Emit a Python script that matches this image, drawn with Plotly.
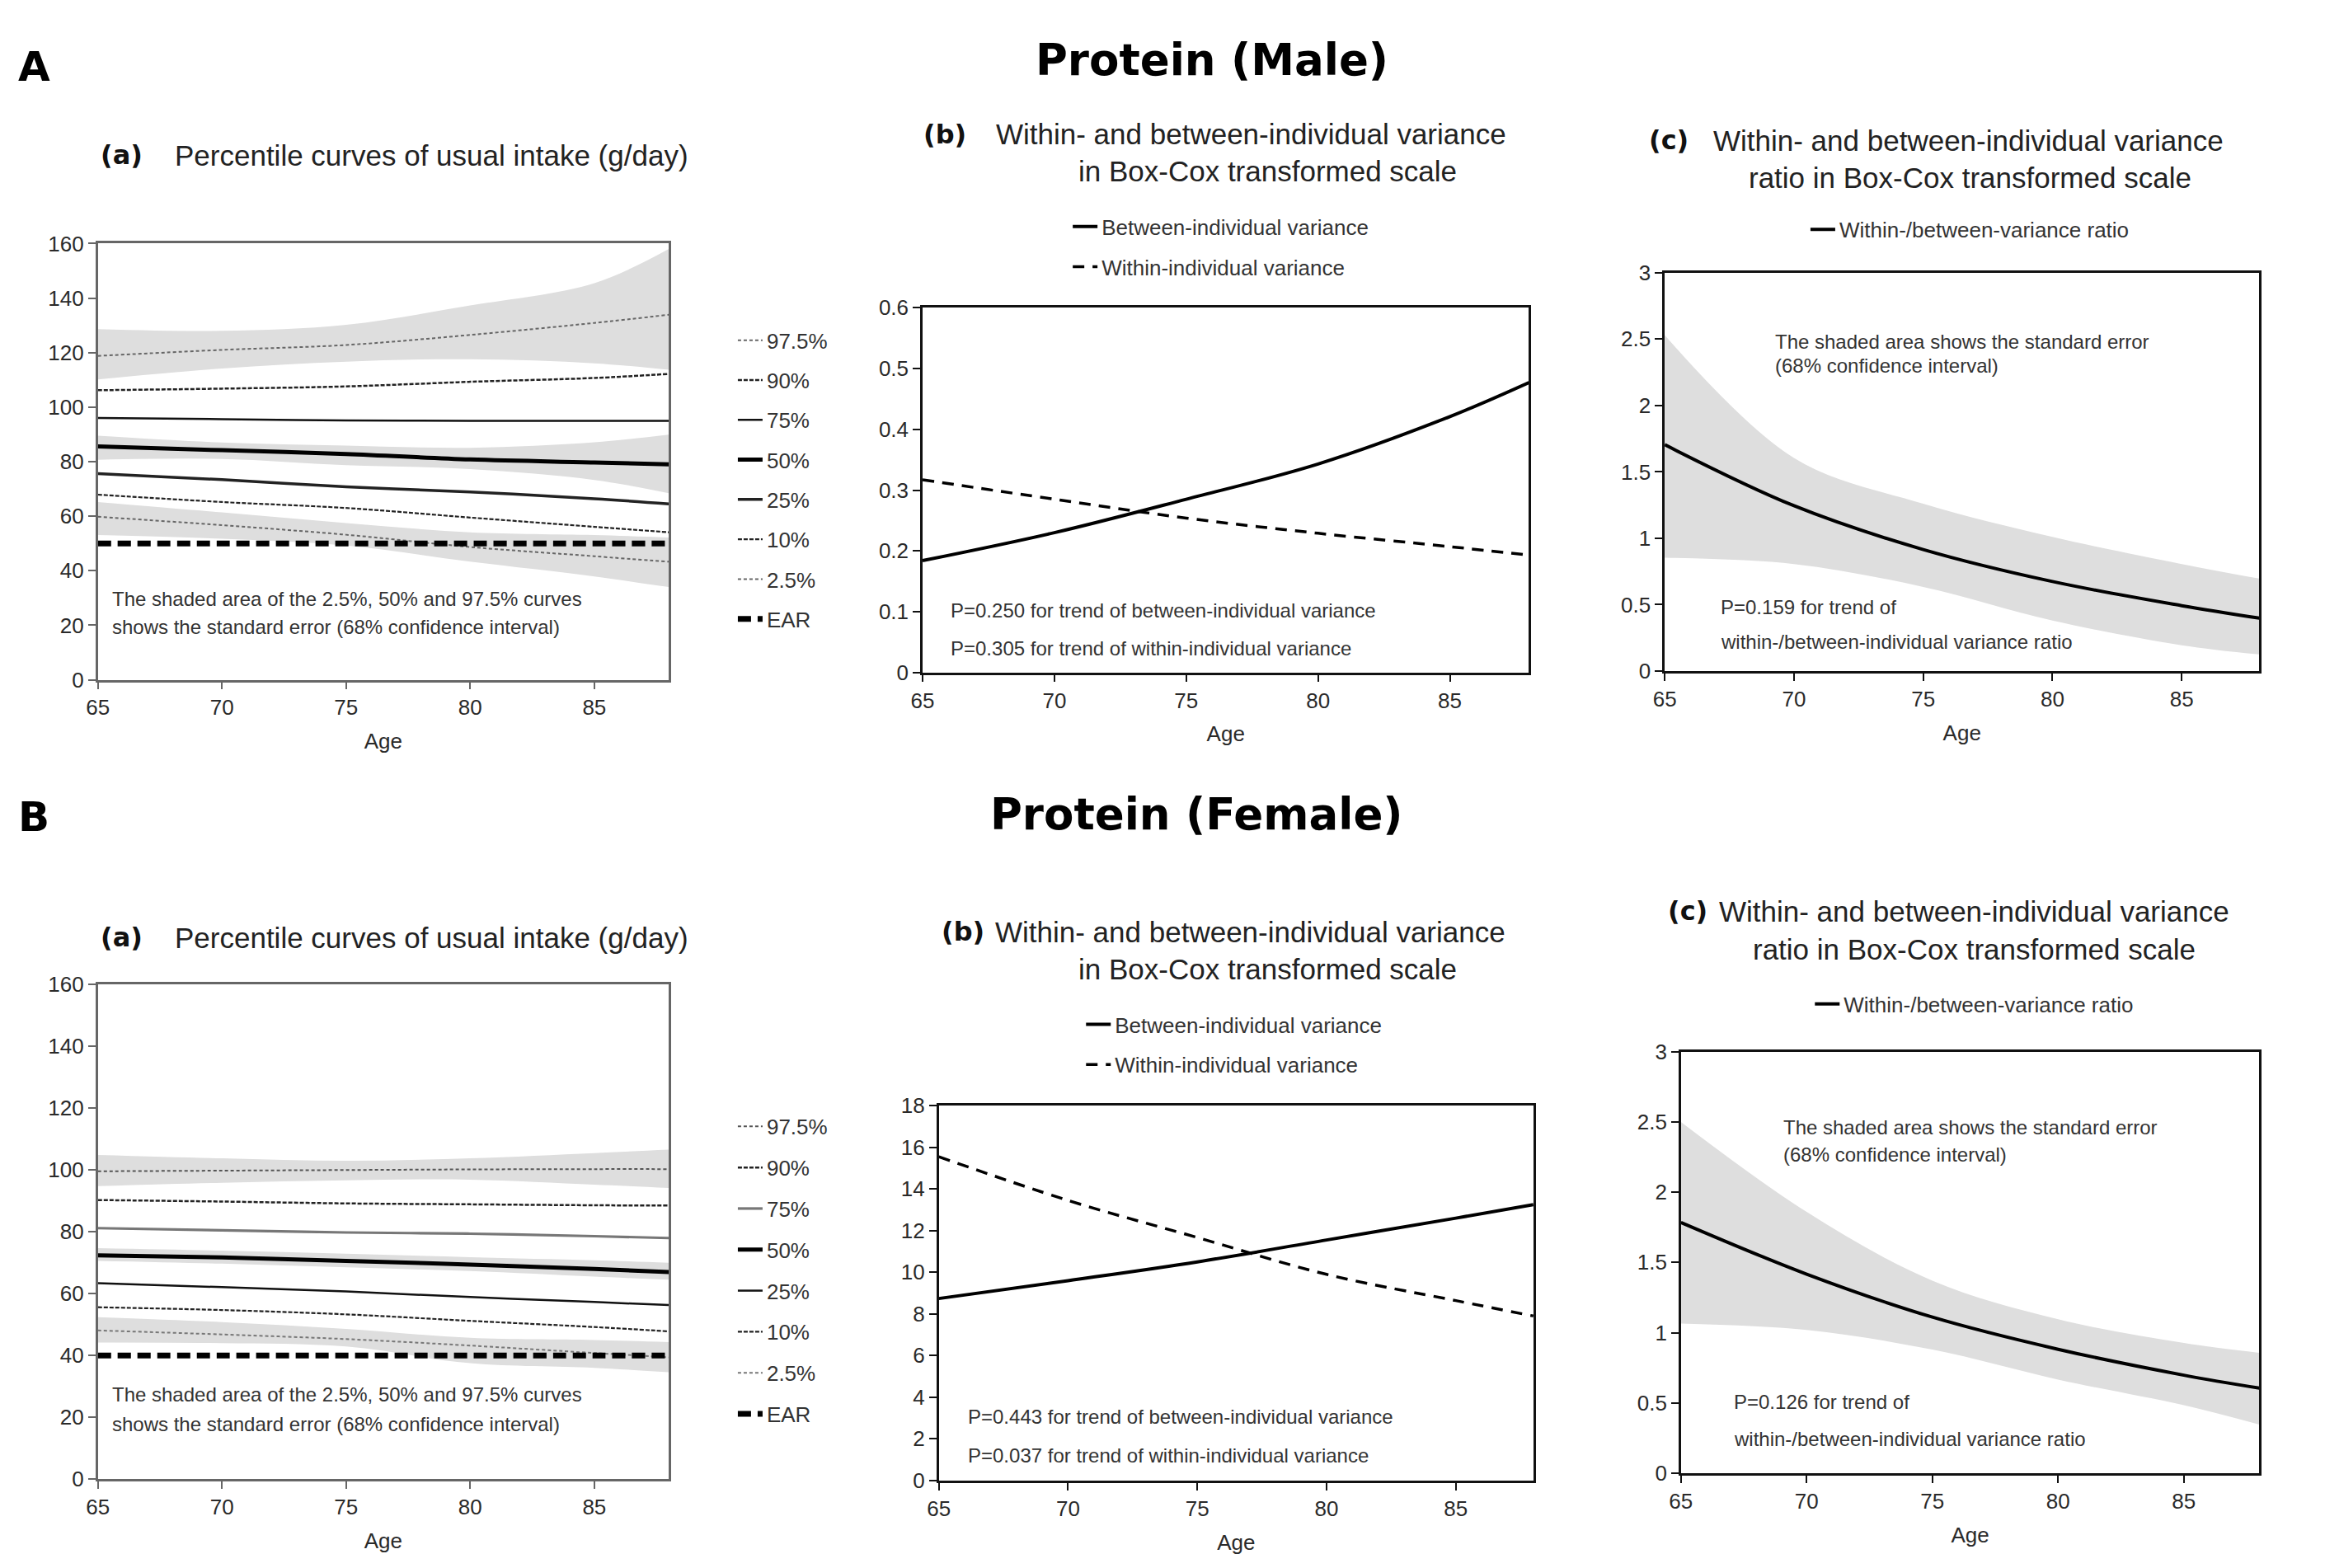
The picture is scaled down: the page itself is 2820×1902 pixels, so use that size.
import plotly.graph_objects as go

# ---------------- data ----------------
AGES = [65, 70, 75, 80, 85, 88]
X_TICKS = [65, 70, 75, 80, 85]

PCT_NAMES = ["97.5%", "90%", "75%", "50%", "25%", "10%", "2.5%"]

# Male (A) percentile curves of usual intake (g/day)
M_P975 = [118.8, 121.0, 122.8, 126.5, 130.9, 133.9]
M_P975_UP = [128.6, 128.0, 130.2, 137.3, 145.5, 158.0]
M_P975_LO = [110.2, 114.2, 116.7, 117.6, 116.1, 113.7]
M_P90 = [106.2, 106.8, 107.6, 109.3, 110.7, 112.2]
M_P75 = [96.0, 95.6, 95.1, 95.0, 95.0, 95.0]
M_P50 = [85.6, 84.2, 82.8, 80.8, 79.7, 79.0]
M_P50_UP = [89.5, 87.0, 85.9, 85.1, 87.1, 89.9]
M_P50_LO = [80.7, 81.0, 78.7, 77.3, 73.3, 68.4]
M_P25 = [75.6, 73.4, 70.8, 68.9, 66.4, 64.5]
M_P10 = [67.9, 65.2, 63.0, 59.5, 56.1, 54.1]
M_P025 = [59.8, 56.7, 53.2, 48.7, 45.3, 43.3]
M_P025_UP = [65.2, 61.4, 57.5, 54.1, 53.1, 52.2]
M_P025_LO = [53.1, 51.7, 49.2, 43.3, 37.9, 34.0]
M_EAR = [50, 50, 50, 50, 50, 50]

# Female (B) percentile curves of usual intake (g/day)
F_P975 = [99.6, 99.8, 100.0, 100.2, 100.3, 100.3]
F_P975_UP = [104.9, 103.8, 103.0, 103.8, 105.5, 106.6]
F_P975_LO = [94.8, 95.9, 96.7, 96.9, 95.3, 94.2]
F_P90 = [90.3, 89.8, 89.2, 88.9, 88.6, 88.5]
F_P75 = [81.2, 80.5, 79.8, 79.4, 78.6, 78.0]
F_P50 = [72.4, 71.7, 70.6, 69.4, 68.0, 67.0]
F_P50_UP = [74.7, 73.9, 72.9, 71.8, 70.8, 70.0]
F_P50_LO = [70.6, 69.7, 68.5, 67.3, 65.5, 64.5]
F_P25 = [63.4, 62.1, 60.7, 58.9, 57.3, 56.3]
F_P10 = [55.6, 54.7, 53.3, 51.2, 49.2, 47.8]
F_P025 = [48.1, 46.8, 45.3, 43.2, 40.8, 39.4]
F_P025_UP = [52.4, 50.8, 48.6, 45.7, 45.0, 44.3]
F_P025_LO = [44.2, 44.0, 42.9, 37.5, 36.0, 34.6]
F_EAR = [40, 40, 40, 40, 40, 40]

# Variances in Box-Cox transformed scale
M_BETWEEN = [0.184, 0.230, 0.285, 0.343, 0.421, 0.477]
M_WITHIN = [0.317, 0.285, 0.254, 0.229, 0.207, 0.193]
F_BETWEEN = [8.74, 9.60, 10.50, 11.55, 12.60, 13.25]
F_WITHIN = [15.55, 13.45, 11.67, 9.90, 8.64, 7.90]

# Within-/between-variance ratio with standard error band
M_RATIO = [1.705, 1.245, 0.915, 0.674, 0.492, 0.398]
M_RATIO_UP = [2.53, 1.605, 1.26, 1.01, 0.806, 0.696]
M_RATIO_LO = [0.853, 0.806, 0.633, 0.380, 0.194, 0.125]
F_RATIO = [1.785, 1.417, 1.111, 0.882, 0.698, 0.606]
F_RATIO_UP = [2.50, 1.86, 1.37, 1.096, 0.927, 0.857]
F_RATIO_LO = [1.065, 1.02, 0.88, 0.667, 0.484, 0.346]

# ---------------- styling ----------------
W, H = 2820, 1902
SX, SY = 1568.0, 1058.0  # layout reference grid
def px(v):
    return v / SX
def py(v):
    return 1 - v / SY

BASE_FONT = "Liberation Sans, Arial, sans-serif"
BOLD_FONT = "DejaVu Sans, Verdana, sans-serif"
TXT = "#2a2a2a"
BAND = "#dedede"

fig = go.Figure()

def band(xa, ya, up, lo):
    fig.add_trace(go.Scatter(x=AGES, y=up, mode="lines", line=dict(width=0, shape="spline"),
                             showlegend=False, hoverinfo="skip", xaxis=xa, yaxis=ya))
    fig.add_trace(go.Scatter(x=AGES, y=lo, mode="lines", line=dict(width=0, shape="spline"),
                             fill="tonexty", fillcolor=BAND, showlegend=False,
                             hoverinfo="skip", xaxis=xa, yaxis=ya))

def line(xa, ya, y, name, color, width, dash, legend, group):
    fig.add_trace(go.Scatter(x=AGES, y=y, mode="lines", name=name,
                             line=dict(color=color, width=width, dash=dash, shape="spline"),
                             xaxis=xa, yaxis=ya, legend=legend, legendgroup=group,
                             showlegend=True))

# ----- A(a) -----
band("x", "y", M_P975_UP, M_P975_LO)
band("x", "y", M_P50_UP, M_P50_LO)
band("x", "y", M_P025_UP, M_P025_LO)
male_pct = [M_P975, M_P90, M_P75, M_P50, M_P25, M_P10, M_P025]
male_sty = [("#666", 2, "4px,3px"), ("#222", 2.5, "5px,2px"), ("#111", 2.5, "solid"),
            ("#000", 5, "solid"), ("#222", 3.5, "solid"), ("#222", 2.2, "5px,2px"),
            ("#666", 2, "4px,3px")]
for i, (vals, nm, st) in enumerate(zip(male_pct, PCT_NAMES, male_sty)):
    line("x", "y", vals, nm, st[0], st[1], st[2], "legend", "a%d" % i)
line("x", "y", M_EAR, "EAR", "#000", 7, "16px,8px", "legend", "a7")

# ----- A(b) -----
line("x2", "y2", M_BETWEEN, "Between-individual variance", "#000", 4, "solid", "legend2", "b0")
line("x2", "y2", M_WITHIN, "Within-individual variance", "#000", 3.5, "14px,10px", "legend2", "b1")

# ----- A(c) -----
band("x3", "y3", M_RATIO_UP, M_RATIO_LO)
line("x3", "y3", M_RATIO, "Within-/between-variance ratio", "#000", 4, "solid", "legend3", "c0")

# ----- B(a) -----
band("x4", "y4", F_P975_UP, F_P975_LO)
band("x4", "y4", F_P50_UP, F_P50_LO)
band("x4", "y4", F_P025_UP, F_P025_LO)
fem_pct = [F_P975, F_P90, F_P75, F_P50, F_P25, F_P10, F_P025]
fem_sty = [("#555", 2, "4px,3px"), ("#222", 2.5, "5px,2px"), ("#777", 3.2, "solid"),
           ("#000", 5, "solid"), ("#111", 2.5, "solid"), ("#222", 2.2, "5px,2px"),
           ("#777", 2, "4px,3px")]
for i, (vals, nm, st) in enumerate(zip(fem_pct, PCT_NAMES, fem_sty)):
    line("x4", "y4", vals, nm, st[0], st[1], st[2], "legend4", "d%d" % i)
line("x4", "y4", F_EAR, "EAR", "#000", 7, "16px,8px", "legend4", "d7")

# ----- B(b) -----
line("x5", "y5", F_BETWEEN, "Between-individual variance", "#000", 4, "solid", "legend5", "e0")
line("x5", "y5", F_WITHIN, "Within-individual variance", "#000", 3.5, "14px,10px", "legend5", "e1")

# ----- B(c) -----
band("x6", "y6", F_RATIO_UP, F_RATIO_LO)
line("x6", "y6", F_RATIO, "Within-/between-variance ratio", "#000", 4, "solid", "legend6", "f0")

# ---------------- axes ----------------
panels = {
    1: dict(xd=[px(54), px(441)], yd=[py(453), py(154)], yr=[0, 160], dt=20, lc="#666"),
    2: dict(xd=[px(613), px(1024)], yd=[py(448), py(198)], yr=[0, 0.6], dt=0.1, lc="#111"),
    3: dict(xd=[px(1116), px(1519)], yd=[py(447), py(174)], yr=[0, 3], dt=0.5, lc="#111"),
    4: dict(xd=[px(54), px(441)], yd=[py(1001), py(662)], yr=[0, 160], dt=20, lc="#666"),
    5: dict(xd=[px(624), px(1027)], yd=[py(1002), py(745)], yr=[0, 18], dt=2, lc="#111"),
    6: dict(xd=[px(1127), px(1519)], yd=[py(997), py(708)], yr=[0, 3], dt=0.5, lc="#111"),
}
lay = {}
for k, p in panels.items():
    sfx = "" if k == 1 else str(k)
    lay["xaxis" + sfx] = dict(
        domain=p["xd"], range=[65, 88], tickvals=X_TICKS, anchor="y" + sfx,
        showline=True, mirror=True, linecolor=p["lc"], linewidth=2.5,
        ticks="outside", ticklen=9, tickwidth=2, tickcolor=p["lc"],
        showgrid=False, zeroline=False,
        tickfont=dict(family=BASE_FONT, size=26, color=TXT),
        title=dict(text="Age", font=dict(family=BASE_FONT, size=26, color=TXT), standoff=18),
    )
    lay["yaxis" + sfx] = dict(
        domain=p["yd"], range=p["yr"], dtick=p["dt"], tick0=0, anchor="x" + sfx,
        showline=True, mirror=True, linecolor=p["lc"], linewidth=2.5,
        ticks="outside", ticklen=9, tickwidth=2, tickcolor=p["lc"],
        showgrid=False, zeroline=False,
        tickfont=dict(family=BASE_FONT, size=26, color=TXT),
    )

def leg(x, y, gap):
    return dict(x=x, y=y, xanchor="left", yanchor="top", bgcolor="rgba(0,0,0,0)",
                font=dict(family=BASE_FONT, size=26, color="#333"),
                tracegroupgap=gap, traceorder="grouped", itemwidth=30)

lay["legend"] = leg(px(485), py(207), 11.5)
lay["legend2"] = leg(px(712), py(129), 12)
lay["legend3"] = leg(px(1212), py(131), 0)
lay["legend4"] = leg(px(485), py(746), 13)
lay["legend5"] = leg(px(721), py(676), 12)
lay["legend6"] = leg(px(1215), py(662), 0)

# ---------------- text ----------------
ann = []
def txt(x, y, s, size, font=BASE_FONT, xanchor="left", xref="paper", yref="paper",
        color=TXT, align="left"):
    ann.append(dict(x=x, y=y, text=s, xref=xref, yref=yref, xanchor=xanchor,
                    yanchor="middle", showarrow=False, align=align,
                    font=dict(family=font, size=size, color=color)))

# panel letters and main titles
txt(px(-1), py(33), "<b>A</b>", 50, BOLD_FONT, color="#000")
txt(px(809), py(28), "<b>Protein (Male)</b>", 53, BOLD_FONT, xanchor="center", color="#000")
txt(px(-1), py(547), "<b>B</b>", 50, BOLD_FONT, color="#000")
txt(px(799), py(545), "<b>Protein (Female)</b>", 53, BOLD_FONT, xanchor="center", color="#000")

# subplot titles: (label x, label y, label, [(center/left x, y, text, anchor)])
TITLE_SIZE = 35
titles = [
    (54.8, 93.3, "(a)", [(105, 93.3, "Percentile curves of usual intake (g/day)", "left")]),
    (612.4, 79.1, "(b)", [(835.6, 79.1, "Within- and between-individual variance", "center"),
                          (847, 104.5, "in Box-Cox transformed scale", "center")]),
    (1104, 83.2, "(c)", [(1321.6, 83.2, "Within- and between-individual variance", "center"),
                         (1323, 108.6, "ratio in Box-Cox transformed scale", "center")]),
    (54.8, 629.8, "(a)", [(105, 629.8, "Percentile curves of usual intake (g/day)", "left")]),
    (624.5, 625.8, "(b)", [(835, 625.8, "Within- and between-individual variance", "center"),
                           (846.7, 651.1, "in Box-Cox transformed scale", "center")]),
    (1117, 611.6, "(c)", [(1325.6, 611.6, "Within- and between-individual variance", "center"),
                          (1325.6, 638, "ratio in Box-Cox transformed scale", "center")]),
]
for lx, ly, lab, parts in titles:
    txt(px(lx), py(ly), "<b>%s</b>" % lab, 32, BOLD_FONT, color="#111")
    for tx, ty, s, anc in parts:
        txt(px(tx), py(ty), s, TITLE_SIZE, xanchor=anc, color="#222")

# in-plot notes (data coordinates)
NOTE = 24
note_a = ["The shaded area of the 2.5%, 50% and 97.5% curves",
          "shows the standard error (68% confidence interval)"]
txt(65.5, 29.5, note_a[0], NOTE, xref="x", yref="y", color="#333")
txt(65.5, 19.3, note_a[1], NOTE, xref="x", yref="y", color="#333")
txt(65.5, 27.4, note_a[0], NOTE, xref="x4", yref="y4", color="#333")
txt(65.5, 17.8, note_a[1], NOTE, xref="x4", yref="y4", color="#333")

txt(66.0, 0.102, "P=0.250 for trend of between-individual variance", NOTE, xref="x2", yref="y2", color="#333")
txt(66.0, 0.039, "P=0.305 for trend of within-individual variance", NOTE, xref="x2", yref="y2", color="#333")
txt(66.05, 3.06, "P=0.443 for trend of between-individual variance", NOTE, xref="x5", yref="y5", color="#333")
txt(66.05, 1.21, "P=0.037 for trend of within-individual variance", NOTE, xref="x5", yref="y5", color="#333")

txt(69.2, 2.48, "The shaded area shows the standard error", NOTE, xref="x3", yref="y3", color="#333")
txt(69.2, 2.30, "(68% confidence interval)", NOTE, xref="x3", yref="y3", color="#333")
txt(67.1, 0.48, "P=0.159 for trend of", NOTE, xref="x3", yref="y3", color="#333")
txt(67.1, 0.22, "within-/between-individual variance ratio", NOTE, xref="x3", yref="y3", color="#333")

txt(69.0, 2.46, "The shaded area shows the standard error", NOTE, xref="x6", yref="y6", color="#333")
txt(69.0, 2.27, "(68% confidence interval)", NOTE, xref="x6", yref="y6", color="#333")
txt(67.05, 0.505, "P=0.126 for trend of", NOTE, xref="x6", yref="y6", color="#333")
txt(67.05, 0.242, "within-/between-individual variance ratio", NOTE, xref="x6", yref="y6", color="#333")

fig.update_layout(
    width=W, height=H, margin=dict(l=0, r=0, t=0, b=0),
    paper_bgcolor="white", plot_bgcolor="white",
    font=dict(family=BASE_FONT, color=TXT),
    annotations=ann, hovermode=False,
    **lay,
)

fig.write_html("out.html")
